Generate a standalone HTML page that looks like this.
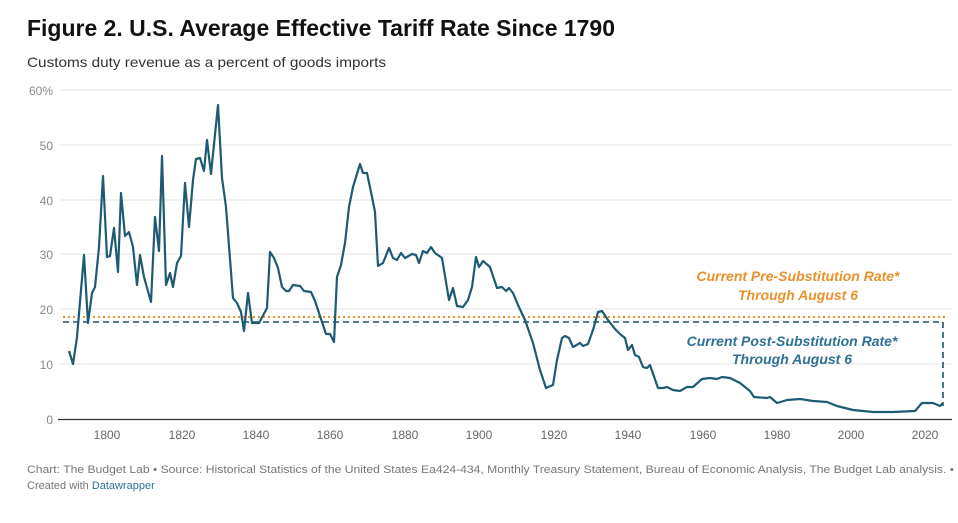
<!DOCTYPE html>
<html><head><style>
body{margin:0;background:#fff;font-family:"Liberation Sans",Arial,sans-serif;}
</style></head><body>
<svg width="958" height="518" xmlns="http://www.w3.org/2000/svg" font-family="Liberation Sans, Arial, sans-serif">
<text x="27" y="36" font-size="23" font-weight="bold" fill="#111" textLength="588" lengthAdjust="spacingAndGlyphs">Figure 2. U.S. Average Effective Tariff Rate Since 1790</text>
<text x="27" y="67" font-size="14" fill="#333" textLength="359" lengthAdjust="spacingAndGlyphs">Customs duty revenue as a percent of goods imports</text>
<g stroke="#e3e3e3" stroke-width="1">
<line x1="60" y1="90" x2="952" y2="90"/><line x1="60" y1="145" x2="952" y2="145"/>
<line x1="60" y1="200" x2="952" y2="200"/><line x1="60" y1="254" x2="952" y2="254"/>
<line x1="60" y1="309" x2="952" y2="309"/><line x1="60" y1="364" x2="952" y2="364"/>
</g>
<line x1="58" y1="419.5" x2="952" y2="419.5" stroke="#333" stroke-width="1.2"/>
<g font-size="12" fill="#888" text-anchor="end">
<text x="53" y="95">60%</text><text x="53" y="150">50</text><text x="53" y="205">40</text>
<text x="53" y="259">30</text><text x="53" y="314">20</text><text x="53" y="369">10</text><text x="53" y="424">0</text>
</g>
<g font-size="12" fill="#666" text-anchor="middle">
<text x="107" y="439">1800</text><text x="182" y="439">1820</text><text x="256" y="439">1840</text>
<text x="330" y="439">1860</text><text x="405" y="439">1880</text><text x="479" y="439">1900</text>
<text x="554" y="439">1920</text><text x="628" y="439">1940</text><text x="703" y="439">1960</text>
<text x="777" y="439">1980</text><text x="851" y="439">2000</text><text x="925" y="439">2020</text>
</g>
<line x1="63" y1="317" x2="946" y2="317" stroke="#e8912b" stroke-width="2" stroke-dasharray="2,3"/>
<line x1="63" y1="322" x2="943" y2="322" stroke="#1e5068" stroke-width="1.6" stroke-dasharray="6,4"/>
<line x1="943" y1="322" x2="943" y2="406" stroke="#1e5068" stroke-width="1.6" stroke-dasharray="6,4"/>
<polyline fill="none" stroke="#1f5a73" stroke-width="2.2" stroke-linejoin="round" points="69,351 73,364 77,337 84,255 88,323 92,293 95,287 99,247 103,176 107,257 110,256 114,228 118,272 121,193 125,236 129,232 133,247 137,285 140,255 144,277 151,302 155,217 159,251 162,156 166,285 170,273 173,287 177,263 181,256 185,183 189,227 193,180 196,159 200,158 204,171 207,140 211,174 218,105 222,178 226,207 233,298 237,303 241,312 244,331 248,293 252,323 259,323 267,308 270,252 274,258 278,268 282,287 286,291 289,291 293,285 300,286 304,291 311,292 315,301 319,313 326,334 330,334 334,342 337,277 341,265 345,243 349,207 353,187 360,164 363,173 367,173 372,197 375,212 378,266 383,263 389,248 393,258 397,260 401,253 405,258 412,254 416,255 419,263 423,251 427,253 431,247 435,253 442,258 449,300 453,288 457,306 463,307 468,300 472,287 476,257 479,267 483,261 490,267 497,288 502,287 506,291 509,288 513,293 518,305 525,320 533,343 540,370 546,388 553,385 557,360 562,338 565,336 569,338 573,347 580,343 583,346 588,344 593,330 598,312 602,311 608,320 615,329 620,334 625,338 628,350 632,345 635,355 639,357 643,367 647,368 650,365 658,388 663,388 667,387 673,390 680,391 687,387 693,387 702,379 710,378 717,379 722,377 730,378 740,383 750,391 754,397 767,398 770,397 777,403 787,400 800,399 813,401 827,402 837,406 853,410 873,412 893,412 915,411 922,403 933,403 940,406 943,403"/>
<g font-size="14" font-weight="bold" font-style="italic" text-anchor="middle">
<text x="798" y="281" fill="#e8912b">Current Pre-Substitution Rate*</text>
<text x="798" y="300" fill="#e8912b">Through August 6</text>
<text x="792" y="346" fill="#2e7196">Current Post-Substitution Rate*</text>
<text x="792" y="364" fill="#2e7196">Through August 6</text>
</g>
<text x="27" y="473" font-size="11" fill="#777" textLength="927" lengthAdjust="spacingAndGlyphs">Chart: The Budget Lab • Source: Historical Statistics of the United States Ea424-434, Monthly Treasury Statement, Bureau of Economic Analysis, The Budget Lab analysis. •</text>
<text x="27" y="489" font-size="11" fill="#777">Created with <tspan fill="#2e7196">Datawrapper</tspan></text>
</svg>
</body></html>
